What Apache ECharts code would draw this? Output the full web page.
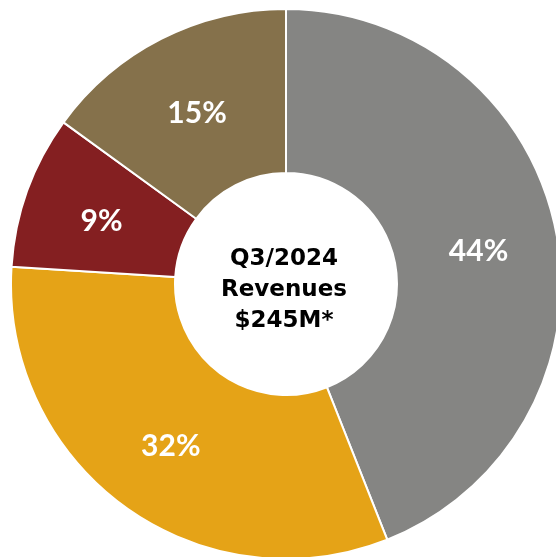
<!DOCTYPE html>
<html>
<head>
<meta charset="utf-8">
<script src="https://cdn.jsdelivr.net/npm/echarts@6/dist/echarts.min.js"></script>
<style>
  html, body { margin: 0; padding: 0; background: #fff; }
  #chart { width: 556px; height: 557px; }
</style>
</head>
<body>
<div id="chart"></div>
<script>
// segment data, clockwise from 12 o'clock
const segments = ['Segment A', 'Segment B', 'Segment C', 'Segment D'];
const shares = [44, 32, 9, 15];
const segColors = ['#858583', '#E5A317', '#841F21', '#85714B'];
const centerLines = ['Q3/2024', 'Revenues', '$245M*'];

const myChart = echarts.init(document.getElementById('chart'));

let option = {
    animation: false,
    title: {
        text: centerLines.join('\n'),
        left: 279,
        top: 285,
        textAlign: 'center',
        textVerticalAlign: 'middle',
        textStyle: {
            fontFamily: '"Century Gothic", "DejaVu Sans", sans-serif',
            fontWeight: 'bold',
            fontSize: 23,
            lineHeight: 31,
            color: '#000'
        }
    },
    series: [
        {
            type: 'pie',
            center: [286, 284],
            radius: [111, 275],
            startAngle: 90,
            clockwise: true,
            avoidLabelOverlap: false,
            itemStyle: { borderColor: '#fff', borderWidth: 2 },
            label: {
                show: true,
                position: 'inside',
                formatter: '{c}%',
                color: '#fff',
                fontFamily: '"Century Gothic", Lato, sans-serif',
                fontWeight: 'bold',
                fontSize: 30,
                offset: [0, 4]
            },
            labelLine: { show: false },
            data: segments.map((name, i) => ({
                name: name,
                value: shares[i],
                itemStyle: { color: segColors[i] }
            }))
        }
    ]
};
option && myChart.setOption(option);
</script>
</body>
</html>
